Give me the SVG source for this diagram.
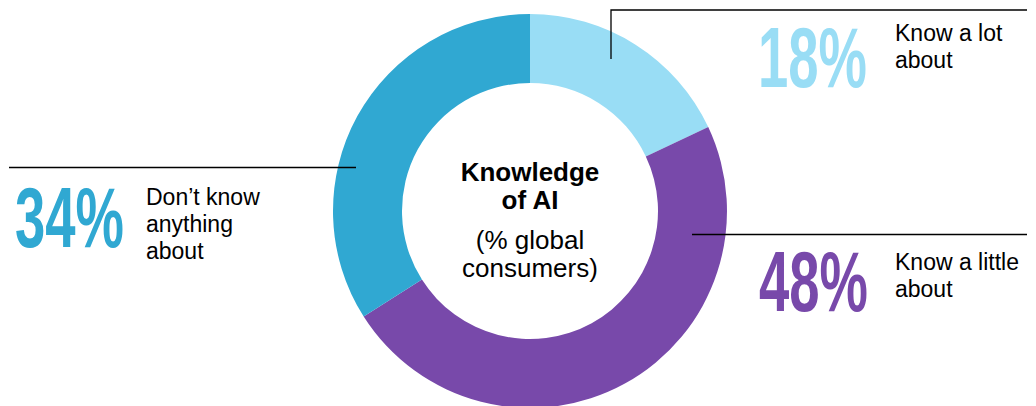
<svg xmlns="http://www.w3.org/2000/svg" width="1036" height="406" viewBox="0 0 1036 406">
<style>
.lead{fill:none;stroke:#000;stroke-width:1.3}
.big{font-family:"Liberation Sans",Arial,sans-serif;font-weight:bold;font-size:86px}
.lbl{font-family:"Liberation Sans",Arial,sans-serif;font-size:23px;fill:#000}
.ctr{font-family:"Liberation Sans",Arial,sans-serif;font-size:26px;fill:#000;text-anchor:middle}
.lt{fill:#99DDF5}
.md{fill:#30A8D2}
.pu{fill:#7849AA}
</style>
<rect width="1036" height="406" fill="#fff"/>
<g id="donut">
<path id="seg-lot" class="lt" d="M530,14 A197,197 0 0 1 708.25,127.12 L645.82,156.50 A128,128 0 0 0 530,83 Z"/>
<path id="seg-little" class="pu" d="M708.25,127.12 A197,197 0 0 1 363.67,316.56 L421.93,279.59 A128,128 0 0 0 645.82,156.50 Z"/>
<path id="seg-nothing" class="md" d="M363.67,316.56 A197,197 0 0 1 530,14 L530,83 A128,128 0 0 0 421.93,279.59 Z"/>
</g>
<g id="center-label">
<text class="ctr" x="530" y="181" font-weight="bold">Knowledge</text>
<text class="ctr" x="530" y="209" font-weight="bold">of AI</text>
<text class="ctr" x="530" y="249">(% global</text>
<text class="ctr" x="530" y="277">consumers)</text>
</g>
<g id="connectors">
<path class="lead" d="M611,59 V10 H1027"/>
<path class="lead" d="M9,167.5 H356"/>
<path class="lead" d="M692,234.5 H1027"/>
</g>
<g id="label-lot">
<text class="big" x="758" y="87" fill="#99DDF5" textLength="109" lengthAdjust="spacingAndGlyphs">18%</text>
<text class="lbl" x="895" y="41">Know a lot</text>
<text class="lbl" x="895" y="68">about</text>
</g>
<g id="label-little">
<text class="big" x="759" y="311" fill="#7849AA" textLength="109" lengthAdjust="spacingAndGlyphs">48%</text>
<text class="lbl" x="895" y="270">Know a little</text>
<text class="lbl" x="895" y="297">about</text>
</g>
<g id="label-nothing">
<text class="big" x="15" y="247" fill="#30A8D2" textLength="109" lengthAdjust="spacingAndGlyphs">34%</text>
<text class="lbl" x="146" y="205">Don’t know</text>
<text class="lbl" x="146" y="232">anything</text>
<text class="lbl" x="146" y="259">about</text>
</g>
</svg>
